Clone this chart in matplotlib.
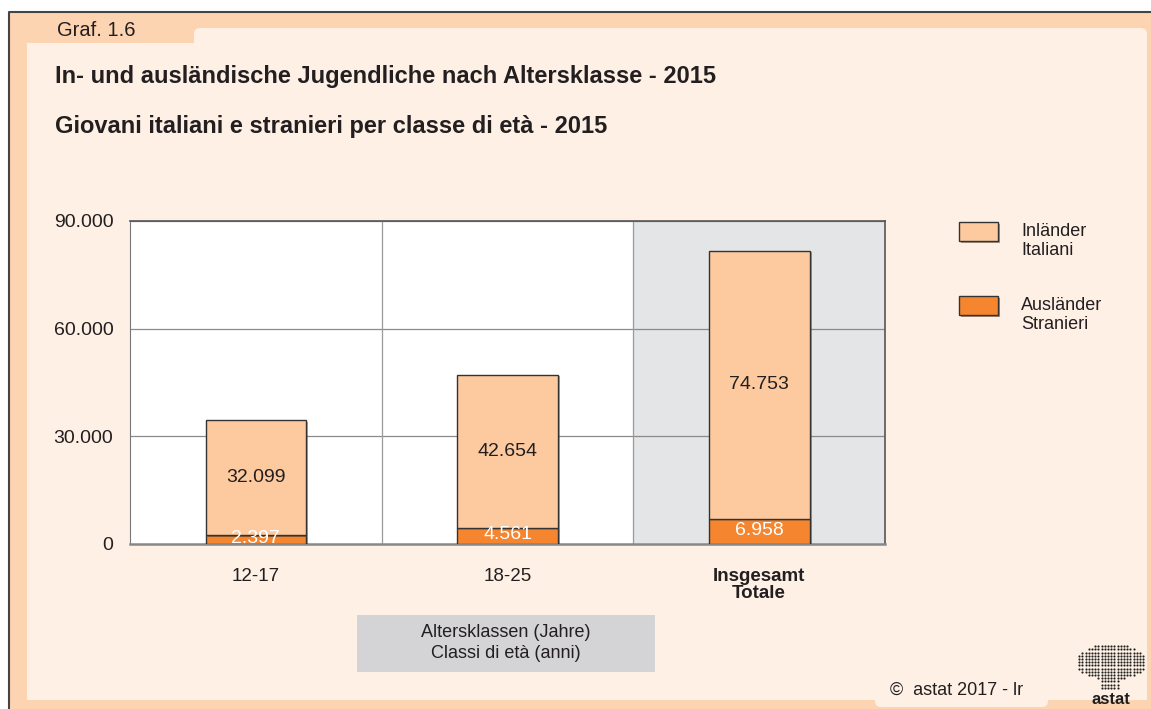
import numpy as np
import matplotlib
matplotlib.use('Agg')
import matplotlib.pyplot as plt
from matplotlib.patches import Rectangle, FancyBboxPatch
import matplotlib.patheffects as pe

plt.rcParams['font.family'] = ['Liberation Sans', 'DejaVu Sans']

# Data
categories = ['12-17', '18-25', 'Insgesamt\nTotale']
italiani = [32099, 42654, 74753]
stranieri = [2397, 4561, 6958]
yticks = [0, 30000, 60000, 90000]
ytick_labels = ['0', '30.000', '60.000', '90.000']
legend_labels = ['Inländer\nItaliani', 'Ausländer\nStranieri']

W, H = 1151, 709
c_peach = '#fdd4b2'
c_light = '#fef0e5'
c_bar1 = '#fdca9f'
c_bar2 = '#f5862f'
c_gray = '#e4e5e7'
c_text = '#231f20'

fig = plt.figure(figsize=(W / 100, H / 100), dpi=100)

# background / frame, in pixel coords
bg = fig.add_axes([0, 0, 1, 1])
bg.set_xlim(0, W)
bg.set_ylim(H, 0)
bg.axis('off')
bg.add_patch(Rectangle((10, 12), W - 10, H - 12, color=c_peach, lw=0))
bg.plot([9.5, 9.5, W], [H, 11.5, 11.5], color='#444444', lw=1.5)
bg.add_patch(Rectangle((27, 43), 1120, 657, color=c_light, lw=0))
bg.add_patch(FancyBboxPatch((194, 28), 953, 30, boxstyle='round,pad=0,rounding_size=6',
                            color=c_light, lw=0))
bg.add_patch(FancyBboxPatch((875, 680), 173, 27, boxstyle='round,pad=0,rounding_size=6',
                            color=c_light, lw=0))
bg.text(57, 30, 'Graf. 1.6', fontsize=14.5, color=c_text, va='center')
bg.text(55, 77, 'In- und ausländische Jugendliche nach Altersklasse - 2015',
        fontsize=17, fontweight='bold', color=c_text, va='center')
bg.text(55, 127, 'Giovani italiani e stranieri per classe di età - 2015',
        fontsize=17, fontweight='bold', color=c_text, va='center')

# x-axis title box
bg.add_patch(Rectangle((357, 615), 298, 57, color='#d4d4d6', lw=0))
bg.text(506, 643, 'Altersklassen (Jahre)\nClassi di età (anni)', fontsize=13,
        color=c_text, ha='center', va='center', linespacing=1.35)

# legend
leg_y = [232, 306]
for (lab, col, yy) in zip(legend_labels, [c_bar1, c_bar2], leg_y):
    bg.add_patch(Rectangle((959, yy - 10), 39, 19, facecolor=col, edgecolor='#333333', lw=1,
                           path_effects=[pe.SimplePatchShadow(offset=(1.2, -1.2), alpha=0.5),
                                         pe.Normal()]))
    bg.text(1021, yy + 9, lab, fontsize=13, color=c_text, va='center', linespacing=1.2)

# copyright
bg.text(890, 690, '©  astat 2017 - lr', fontsize=13, color=c_text, va='center')

# logo: dot matrix blob + name
gx, gy = np.meshgrid(np.arange(1076, 1148, 3.2), np.arange(643, 692, 3.2))
gx, gy = gx.ravel(), gy.ravel()
blob = ((gx - 1111) / 35) ** 2 + ((gy - 662) / 18) ** 2 < 1
stem = (np.abs(gx - 1109) < 10) & (gy > 662) & (gy < 690)
sel = blob | stem
bg.scatter(gx[sel], gy[sel], s=2.4, color='#1e1e1e', lw=0)
bg.text(1111, 700, 'astat', fontsize=12, fontweight='bold', color='#1e1e1e',
        ha='center', va='center')

# main chart
ax = fig.add_axes([130 / W, (H - 544) / H, 755 / W, 323 / H])
ax.set_facecolor('white')
x = np.arange(len(categories))
ax.axvspan(1.5, 2.5, color=c_gray, lw=0, zorder=0)
for yv in yticks[1:]:
    ax.axhline(yv, color='#8a8a8a', lw=0.9, zorder=1)
for xv in [0.5, 1.5]:
    ax.axvline(xv, color='#9a9a9a', lw=0.9, zorder=1)

shadow = [pe.SimplePatchShadow(offset=(1.5, -1.0), alpha=0.45), pe.Normal()]
b2 = ax.bar(x, stranieri, width=0.4, color=c_bar2, edgecolor='#333333', lw=1, zorder=3,
            path_effects=shadow)
b1 = ax.bar(x, italiani, width=0.4, bottom=stranieri, color=c_bar1, edgecolor='#333333',
            lw=1, zorder=3, path_effects=shadow)

for xi, s, it in zip(x, stranieri, italiani):
    ax.text(xi, s / 2 + 300, f'{s:,}'.replace(',', '.'), ha='center', va='center',
            fontsize=14, color='white', zorder=4)
    ax.text(xi, s + it / 2, f'{it:,}'.replace(',', '.'), ha='center', va='center',
            fontsize=14, color=c_text, zorder=4)

ax.set_xlim(-0.5, 2.5)
ax.set_ylim(0, 90000)
ax.set_yticks(yticks)
ax.set_yticklabels(ytick_labels, fontsize=14, color=c_text)
ax.set_xticks(x)
ax.set_xticklabels(categories, fontsize=13.5, color=c_text, linespacing=1.0)
ax.get_xticklabels()[2].set_fontweight('bold')
ax.tick_params(axis='y', length=0, pad=12)
ax.tick_params(axis='x', length=0, pad=17)
for sp in ['top', 'right']:
    ax.spines[sp].set_color('#555555')
    ax.spines[sp].set_linewidth(1.2)
ax.spines['left'].set_color('#777777')
ax.spines['bottom'].set_color('#888888')
ax.spines['bottom'].set_linewidth(1.8)

fig.savefig('out.png', dpi=100)
